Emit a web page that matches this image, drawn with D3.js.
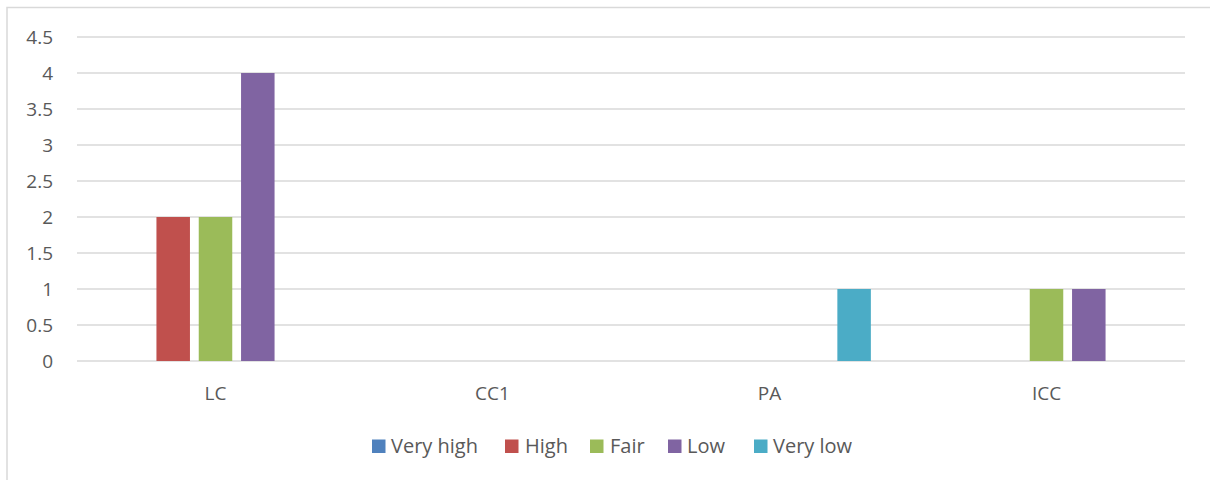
<!DOCTYPE html>
<html>
<head>
<meta charset="utf-8">
<script src="https://cdn.jsdelivr.net/npm/d3@7"></script>
<style>
  html, body { margin: 0; padding: 0; background: #fff; }
  svg { display: block; }
  text { font-family: "Open Sans", "Noto Sans", sans-serif; fill: #595959; }
</style>
</head>
<body>
<svg id="chart" width="1210" height="480"></svg>
<script>
const categories = ["LC", "CC1", "PA", "ICC"];
const seriesNames = ["Very high", "High", "Fair", "Low", "Very low"];
const seriesColors = ["#4F81BD", "#C0504D", "#9BBB59", "#8064A2", "#4BACC6"];
const veryHigh = [0, 0, 0, 0];
const high = [2, 0, 0, 0];
const fair = [2, 0, 0, 1];
const low = [4, 0, 0, 1];
const veryLow = [0, 0, 1, 0];
const yTicks = [0, 0.5, 1, 1.5, 2, 2.5, 3, 3.5, 4, 4.5];

const seriesValues = [veryHigh, high, fair, low, veryLow];

(function () {
const svg = d3.select("#chart");

// outer border
svg.append("rect")
  .attr("x", 7).attr("y", 7.5)
  .attr("width", 1240).attr("height", 520)
  .attr("fill", "none").attr("stroke", "#D9D9D9").attr("stroke-width", 1.5);

const plotL = 77, plotR = 1185, plotT = 37, plotB = 361;

const x0 = d3.scaleBand().domain(categories).range([plotL, plotR]).paddingInner(0).paddingOuter(0);
const x1 = d3.scaleBand().domain(seriesNames).range([0, x0.bandwidth()])
  .paddingInner(0.208).paddingOuter(0.878);
const y = d3.scaleLinear().domain([0, 4.5]).range([plotB, plotT]);

// gridlines
svg.append("g").selectAll("line").data(yTicks).join("line")
  .attr("x1", plotL).attr("x2", plotR)
  .attr("y1", d => y(d)).attr("y2", d => y(d))
  .attr("stroke", "#D9D9D9").attr("stroke-width", 1.3);

// y-axis labels
const yAxis = d3.axisLeft(y).tickValues(yTicks).tickSize(0).tickPadding(0)
  .tickFormat(d => String(d));
const gy = svg.append("g").attr("transform", "translate(53,0)").call(yAxis);
gy.select(".domain").remove();
gy.selectAll("text").attr("font-size", 19).attr("fill", "#595959")
  .style("font-family", '"Open Sans", sans-serif').attr("dy", "0.35em");

// bars
const groups = svg.append("g").selectAll("g").data(categories).join("g")
  .attr("transform", d => `translate(${x0(d)},0)`);
groups.selectAll("rect")
  .data((c, ci) => seriesNames.map((s, si) => ({ s, si, v: seriesValues[si][ci] })).filter(d => d.v > 0))
  .join("rect")
  .attr("x", d => x1(d.s))
  .attr("width", x1.bandwidth())
  .attr("y", d => y(d.v))
  .attr("height", d => y(0) - y(d.v))
  .attr("fill", d => seriesColors[d.si]);

// x-axis labels
const xAxis = d3.axisBottom(x0).tickSize(0).tickPadding(0);
const gx = svg.append("g").attr("transform", `translate(0,${plotB})`).call(xAxis);
gx.select(".domain").remove();
gx.selectAll("text").attr("font-size", 19).attr("fill", "#595959")
  .style("font-family", '"Open Sans", sans-serif')
  .attr("y", 39).attr("dy", 0);

// legend
const legendItems = [
  { name: "Very high", sx: 372, tx: 391 },
  { name: "High", sx: 505, tx: 525 },
  { name: "Fair", sx: 590, tx: 610 },
  { name: "Low", sx: 668, tx: 687 },
  { name: "Very low", sx: 754, tx: 773 }
];
const lg = svg.append("g").selectAll("g").data(legendItems).join("g");
lg.append("rect")
  .attr("x", d => d.sx).attr("y", 439.5)
  .attr("width", 13.5).attr("height", 13.5)
  .attr("fill", (d, i) => seriesColors[i]);
lg.append("text")
  .attr("x", d => d.tx).attr("y", 453)
  .attr("font-size", 20)
  .text(d => d.name);
})();
</script>
</body>
</html>
